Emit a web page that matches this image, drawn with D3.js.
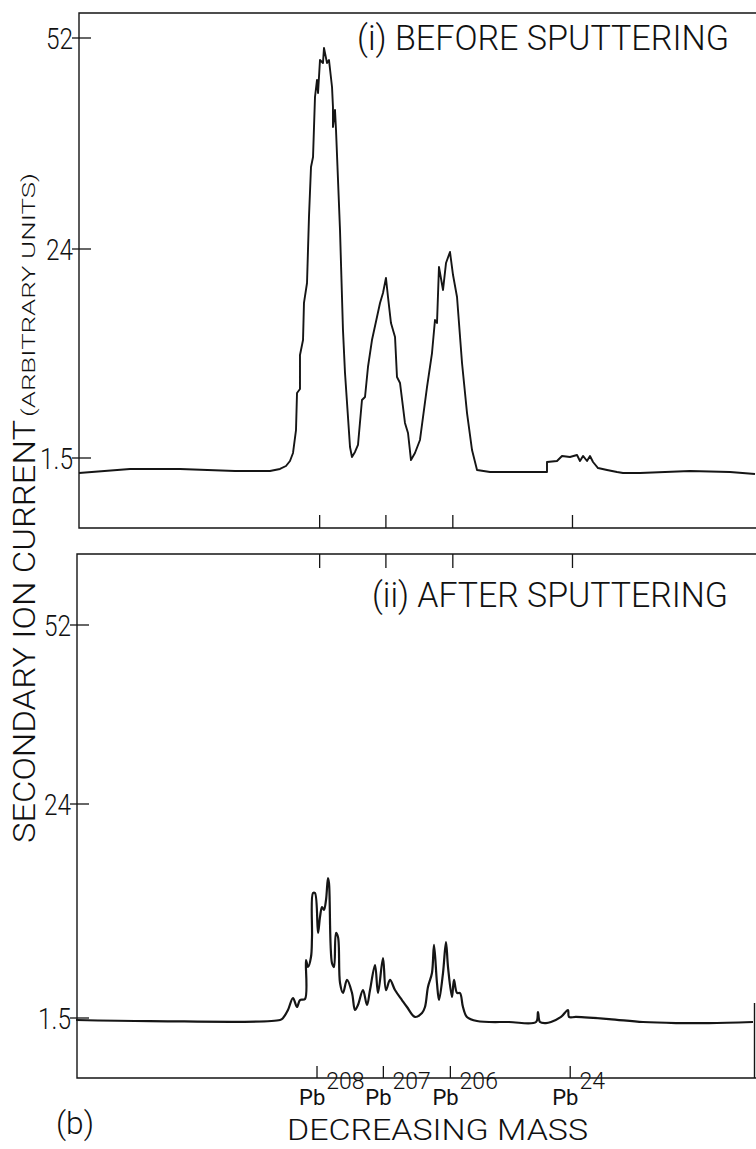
<!DOCTYPE html>
<html><head><meta charset="utf-8">
<script src="https://cdn.jsdelivr.net/npm/d3@7"></script>
<style>
html,body{margin:0;padding:0;background:#fff;}
svg{display:block;}
text{font-family:Roboto,"DejaVu Sans",sans-serif;font-weight:300;fill:#111;}
</style></head><body>
<svg id="c" width="756" height="1149"></svg>
<script>
// ---- data (scan position 0..100, current in arbitrary units) ----
const yTickValues = [1.5, 24, 52];
const yTickLabels = ["1.5", "24", "52"];
const isotopeTicks = [35.6, 45.4, 55.3, 73.0];
const isotopeLabels = ["208", "207", "206", "24"];

const beforeScan = [0,7.54,14.94,23.08,28.25,29.73,30.62,31.21,31.66,32.10,32.25,32.69,32.69,32.99,33.14,33.28,33.73,34.02,34.32,34.62,34.91,35.21,35.36,35.65,36.09,36.24,36.69,36.98,37.43,37.57,37.57,37.87,38.02,38.61,39.05,39.35,40.09,40.38,40.83,41.27,41.86,42.31,42.75,43.34,44.08,44.53,44.97,45.41,45.71,46.15,46.75,47.04,47.49,48.22,48.67,49.11,49.70,50.44,51.48,52.22,52.66,52.96,53.25,53.85,54.29,54.88,55.33,55.92,56.66,57.40,58.14,58.88,60.80,69.23,69.23,70.71,71.45,72.63,73.67,74.11,74.56,75.15,75.59,76.04,76.78,78.11,79.59,80.47,82.99,90.38,96.30,100];
const beforeCurrent = [-0.11,0.32,0.32,0.10,0.10,0.32,0.64,1.18,2.04,4.51,8.50,8.93,12.59,13.67,14.20,18.19,20.34,28.25,34.88,36.21,44.17,46.43,44.70,49.08,48.68,50.67,48.68,49.08,45.50,42.84,40.19,42.45,39.79,26.52,15.28,10.65,2.68,1.61,2.15,2.90,7.74,8.07,11.30,14.20,16.68,18.19,19.26,20.88,18.83,16.03,14.53,10.22,9.57,5.27,4.19,1.28,2.04,3.44,9.14,12.80,16.36,16.03,22.06,19.59,22.49,23.68,21.20,18.83,11.73,6.34,2.36,0.21,-0.01,-0.01,1.07,1.18,1.72,1.61,1.82,1.18,1.72,1.18,1.72,1.07,0.42,0.21,-0.01,-0.11,-0.11,0.10,-0.01,-0.22];

const afterScan = [0,10.93,30.13,30.58,31.31,32.05,32.64,33.09,33.83,33.97,34.27,34.71,34.86,35.01,35.30,35.75,36.04,36.34,36.63,36.93,37.22,37.37,37.81,38.11,38.40,38.70,39.00,39.44,40.03,40.77,41.21,41.65,42.39,42.98,43.43,44.17,44.61,45.35,45.79,46.38,47.12,48.15,48.89,50.07,51.11,51.55,51.99,52.58,52.88,53.32,53.62,54.21,54.65,54.95,55.54,55.83,56.28,56.72,57.16,57.75,59.23,63.96,67.95,68.24,68.54,69.42,70.16,71.64,72.67,72.82,73.86,78.73,83.75,88.63,93.50,100];
const afterCurrent = [1.29,1.18,1.29,1.50,2.34,3.60,2.66,3.39,3.50,7.60,6.86,7.91,10.02,14.64,14.64,10.44,12.12,13.17,12.86,13.91,16.22,15.69,7.28,6.86,10.44,10.02,5.18,4.13,5.50,4.13,2.34,2.87,4.44,2.87,4.44,7.07,4.13,7.81,4.44,5.50,4.44,3.39,2.66,1.61,2.03,2.66,4.76,6.23,9.18,5.18,3.39,6.23,9.49,6.86,3.71,5.50,4.13,4.13,2.66,1.61,1.18,1.08,1.08,2.13,1.08,0.97,1.08,1.61,2.34,1.61,1.61,1.39,1.08,0.97,0.97,1.08];

// ---- layout ----
const svg = d3.select("#c");
const ink = "#151515";

const xTop = d3.scaleLinear().domain([0, 100]).range([79, 755]);
const xBot = d3.scaleLinear().domain([0, 100]).range([76, 753]);

const panels = [
  { scan: beforeScan, cur: beforeCurrent, x: xTop, left: 79, top: 13, bottom: 528,
    y: d3.scaleLinear().domain(yTickValues).range([458, 249, 38]),
    title: "(i) BEFORE SPUTTERING", titleX: 357, titleW: 372, titleY: 50,
    curve: d3.curveLinear, sw: 1.9 },
  { scan: afterScan, cur: afterCurrent, x: xBot, left: 77, top: 554, bottom: 1078,
    y: d3.scaleLinear().domain(yTickValues).range([1018, 804, 625]),
    title: "(ii) AFTER SPUTTERING", titleX: 372, titleW: 356, titleY: 607,
    curve: d3.curveCatmullRom.alpha(0.5), sw: 2.2 }
];

panels.forEach((p, pi) => {
  const g = svg.append("g");
  g.append("path")
    .attr("d", `M756,${p.top}H${p.left}V${p.bottom}H756`)
    .attr("fill", "none").attr("stroke", ink).attr("stroke-width", 1.4);
  if (pi === 1) {
    g.append("line").attr("x1", 754.5).attr("x2", 754.5)
      .attr("y1", 1003).attr("y2", p.bottom)
      .attr("stroke", ink).attr("stroke-width", 1.4);
  }
  yTickValues.forEach((v, i) => {
    const yy = p.y(v);
    g.append("line").attr("x1", p.left - 7).attr("x2", p.left + 12)
      .attr("y1", yy).attr("y2", yy).attr("stroke", ink).attr("stroke-width", 1.3);
    const lab = yTickLabels[i];
    g.append("text").attr("x", p.left - 6).attr("y", yy + 11)
      .attr("text-anchor", "end").attr("font-size", 30)
      .attr("textLength", lab.length === 3 ? 33 : 27).attr("lengthAdjust", "spacingAndGlyphs")
      .text(lab);
  });
  const line = d3.line().x((d, i) => p.x(p.scan[i])).y((d, i) => p.y(p.cur[i])).curve(p.curve);
  g.append("path").datum(p.cur).attr("d", line)
    .attr("fill", "none").attr("stroke", ink).attr("stroke-width", p.sw)
    .attr("stroke-linejoin", "round");
  g.append("text").attr("x", p.titleX).attr("y", p.titleY)
    .attr("font-size", 35).attr("textLength", p.titleW).attr("lengthAdjust", "spacingAndGlyphs")
    .text(p.title);
});

const P0 = panels[0], P1 = panels[1];
isotopeTicks.forEach(t => {
  svg.append("line").attr("x1", xTop(t)).attr("x2", xTop(t))
    .attr("y1", P0.bottom).attr("y2", P0.bottom - 13).attr("stroke", ink).attr("stroke-width", 1.3);
  svg.append("line").attr("x1", xTop(t)).attr("x2", xTop(t))
    .attr("y1", P1.top).attr("y2", P1.top + 14).attr("stroke", ink).attr("stroke-width", 1.3);
  svg.append("line").attr("x1", xBot(t)).attr("x2", xBot(t))
    .attr("y1", P1.bottom).attr("y2", P1.bottom - 12).attr("stroke", ink).attr("stroke-width", 1.3);
});

// isotope labels: "Pb" with superscript mass number, one text element each
isotopeTicks.forEach((t, i) => {
  const cx = xBot(t);
  const s = isotopeLabels[i];
  const tx = svg.append("text").attr("x", cx - 18).attr("y", 1105).attr("font-size", 22);
  tx.append("tspan").attr("font-weight", 400).text("Pb");
  tx.append("tspan").attr("dx", 1).attr("dy", -16).attr("font-size", 23).text(s);
});

svg.append("text").attr("x", 287).attr("y", 1140)
  .attr("font-size", 30).attr("textLength", 301).attr("lengthAdjust", "spacingAndGlyphs")
  .text("DECREASING MASS");
svg.append("text").attr("x", 56).attr("y", 1134)
  .attr("font-size", 31).attr("textLength", 38).attr("lengthAdjust", "spacingAndGlyphs")
  .text("(b)");

const yl = svg.append("g").attr("transform", "translate(35,843) rotate(-90)");
yl.append("text").attr("x", 0).attr("y", 0)
  .attr("font-size", 32).attr("textLength", 423).attr("lengthAdjust", "spacingAndGlyphs")
  .text("SECONDARY ION CURRENT");
yl.append("text").attr("x", 426).attr("y", 0)
  .attr("font-size", 18).attr("textLength", 244).attr("lengthAdjust", "spacingAndGlyphs")
  .text("(ARBITRARY UNITS)");
</script>
</body></html>
